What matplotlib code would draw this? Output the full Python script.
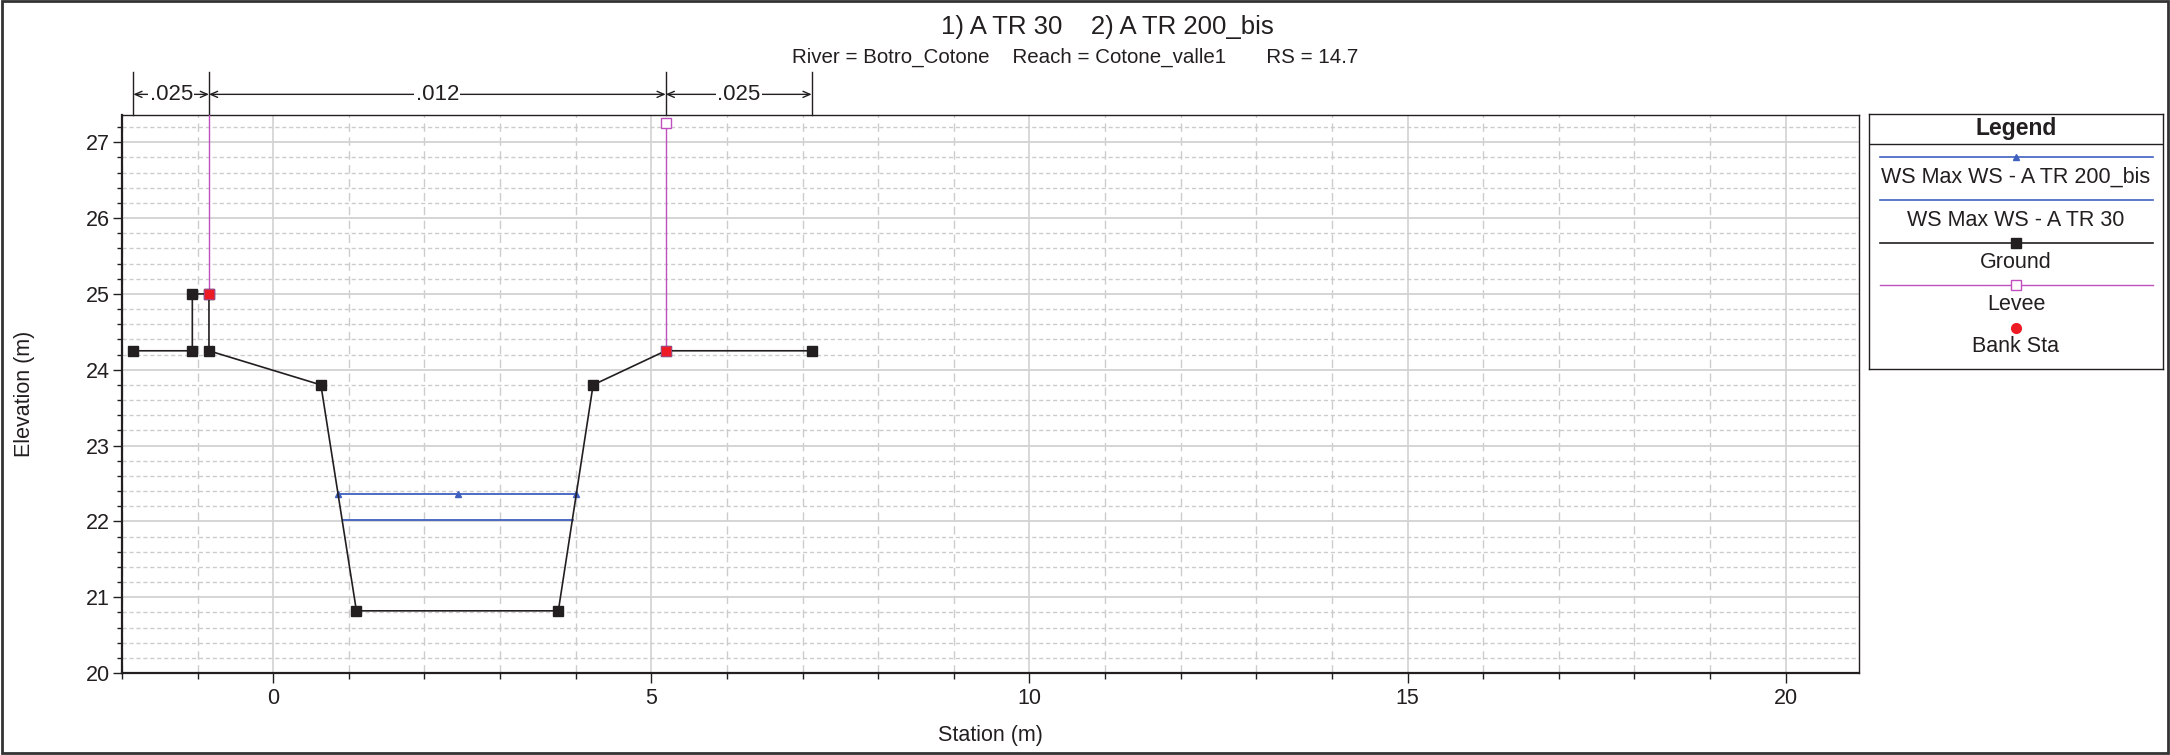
import matplotlib
matplotlib.use('Agg')
import matplotlib.pyplot as plt
from matplotlib.ticker import MultipleLocator
from matplotlib.patches import Rectangle
from matplotlib.transforms import blended_transform_factory

plt.rcParams['font.family'] = ['Liberation Sans', 'DejaVu Sans']

title = '1) A TR 30    2) A TR 200_bis'
subtitle = 'River = Botro_Cotone    Reach = Cotone_valle1       RS = 14.7'

# ground profile (station, elevation)
ground_sta = [-1.85, -1.07, -1.07, -0.85, -0.85, 0.63, 1.10, 3.77, 4.23, 5.19, 7.12]
ground_elev = [24.25, 24.25, 25.00, 25.00, 24.25, 23.80, 20.82, 20.82, 23.80, 24.25, 24.25]

# levees (left one tops out above the plot)
levee_left_sta = [-0.85, -0.85]
levee_left_elev = [25.00, 27.60]
levee_right_sta = [5.19, 5.19]
levee_right_elev = [24.25, 27.26]

bank_sta = [-0.85, 5.19]
bank_elev = [25.00, 24.25]

# water surfaces
ws200_sta = [0.86, 2.44, 4.01]
ws200_elev = [22.36, 22.36, 22.36]
ws30_sta = [0.92, 3.96]
ws30_elev = [22.02, 22.02]

# manning's n
n_breaks = [-1.85, -0.85, 5.19, 7.12]
n_values = ['.025', '.012', '.025']

legend_labels = ['WS Max WS - A TR 200_bis', 'WS Max WS - A TR 30', 'Ground', 'Levee', 'Bank Sta']

c_ws = '#4060c0'
c_gr = '#231f20'
c_lev = '#c050c0'
c_bank = '#ed1c24'
c_txt = '#231f20'

W, H = 2170, 755
fig = plt.figure(figsize=(W / 100, H / 100), dpi=100)
ax = fig.add_axes([122/W, 1-673/H, (1859-122)/W, (673-115)/H])

ax.plot(levee_left_sta, levee_left_elev, color=c_lev, lw=1.0, marker='s', ms=6.5, mfc='white', mec=c_lev, mew=1, zorder=3)
ax.plot(levee_right_sta, levee_right_elev, color=c_lev, lw=1.0, zorder=3)
ax.plot(levee_right_sta[1:], levee_right_elev[1:], ls='none', marker='s', ms=6.5, mfc='white', mec=c_lev, mew=1, zorder=3)
ax.plot(ws200_sta, ws200_elev, color=c_ws, lw=1.3, marker='^', ms=4.5, zorder=4)
ax.plot(ws30_sta, ws30_elev, color=c_ws, lw=1.3, zorder=4)
ax.plot(ground_sta, ground_elev, color=c_gr, lw=1.2, marker='s', ms=6.8, zorder=5)
ax.plot(bank_sta, bank_elev, ls='none', marker='s', ms=6.8, color=c_bank, mec='#c050a0', mew=0.5, zorder=6)

ax.set_xlim(-2, 20.97)
ax.set_ylim(20, 27.36)
ax.xaxis.set_major_locator(MultipleLocator(5))
ax.xaxis.set_minor_locator(MultipleLocator(1))
ax.yaxis.set_major_locator(MultipleLocator(1))
ax.yaxis.set_minor_locator(MultipleLocator(0.2))

ax.set_axisbelow(True)
ax.xaxis.grid(True, which='major', color='#d2d2d2', lw=1.2)
ax.yaxis.grid(True, which='major', color='#d2d2d2', lw=1.3)
ax.xaxis.grid(True, which='minor', color='#cccccc', lw=1.0, ls=(0, (6, 4)))
ax.yaxis.grid(True, which='minor', color='#cccccc', lw=1.0, ls=(0, (3, 2)))

ax.tick_params(axis='x', which='major', length=7.2, width=1, labelsize=15.5, pad=3.5, colors=c_txt)
ax.tick_params(axis='x', which='minor', length=4.3, width=1, colors=c_txt)
ax.tick_params(axis='y', which='major', length=6.5, width=1, labelsize=15.5, pad=2, colors=c_txt)
ax.tick_params(axis='y', which='minor', length=3.6, width=1, colors=c_txt)
for s in ['left', 'bottom']:
    ax.spines[s].set_linewidth(1.6)
    ax.spines[s].set_color('#231f20')
for s in ['top', 'right']:
    ax.spines[s].set_linewidth(1.0)
    ax.spines[s].set_color('#231f20')

ax.set_xlabel('Station (m)', fontsize=15.5, color=c_txt, va='center')
ax.xaxis.set_label_coords(0.5, (673 - 736) / 558)
ax.set_ylabel('Elevation (m)', fontsize=15.5, color=c_txt, va='center')
ax.yaxis.set_label_coords((25 - 122) / 1737, 0.5)

# manning's n strip above the plot
tr = blended_transform_factory(ax.transData, ax.transAxes)
for xb in n_breaks:
    ax.plot([xb, xb], [1.0, 1.0776], transform=tr, color=c_txt, lw=1.0, clip_on=False)
ya = 1.037
for i, nv in enumerate(n_values):
    x0, x1 = n_breaks[i], n_breaks[i + 1]
    ax.annotate('', xy=(x1, ya), xytext=(x0, ya), xycoords=tr, textcoords=tr,
                arrowprops=dict(arrowstyle='<->,head_length=0.5,head_width=0.22', color=c_txt,
                                lw=1.0, shrinkA=0, shrinkB=0), annotation_clip=False)
    ax.text((x0 + x1) / 2, ya, nv, transform=tr, ha='center', va='center', fontsize=16, color=c_txt,
            bbox=dict(facecolor='white', edgecolor='none', pad=1.0))

fig.text(1107/W, 1-34/H, title, ha='center', va='baseline', fontsize=18.5, color=c_txt)
fig.text(1075/W, 1-63/H, subtitle, ha='center', va='baseline', fontsize=14.8, color=c_txt)

# legend box, drawn in pixel-like coordinates
lg = fig.add_axes([1869/W, 1-369/H, (2163-1869)/W, (369-114)/H])
lg.set_xlim(1869, 2163)
lg.set_ylim(369, 114)
lg.set_xticks([])
lg.set_yticks([])
for s in lg.spines.values():
    s.set_linewidth(1.0)
    s.set_color('#231f20')
lg.text(2016, 129, 'Legend', ha='center', va='center', fontsize=16.5, fontweight='bold', color=c_txt)
lg.plot([1869, 2163], [144, 144], color='#231f20', lw=1.0)
xm = 2016
line_y = [156.7, 199.7, 242.7, 284.7]
text_y = [177, 220, 262, 305, 347]
lg.plot([1880, 2153], [line_y[0]] * 2, color=c_ws, lw=1.2)
lg.plot([xm], [line_y[0]], marker='^', ms=4.5, color=c_ws)
lg.plot([1880, 2153], [line_y[1]] * 2, color=c_ws, lw=1.2)
lg.plot([1880, 2153], [line_y[2]] * 2, color=c_gr, lw=1.2)
lg.plot([xm], [line_y[2]], marker='s', ms=6.5, color=c_gr)
lg.plot([1880, 2153], [line_y[3]] * 2, color=c_lev, lw=1.0)
lg.plot([xm], [line_y[3]], marker='s', ms=6.5, mfc='white', mec=c_lev, mew=1)
lg.plot([xm], [327.7], marker='o', ms=7, color=c_bank)
for ty, lab in zip(text_y, legend_labels):
    lg.text(2016, ty, lab, ha='center', va='center', fontsize=15.5, color=c_txt)

fig.patches.append(Rectangle((0.001, 0.002), 0.998, 0.997, transform=fig.transFigure,
                             fill=False, lw=2, ec='#333333'))

fig.savefig('out.png', dpi=100)
